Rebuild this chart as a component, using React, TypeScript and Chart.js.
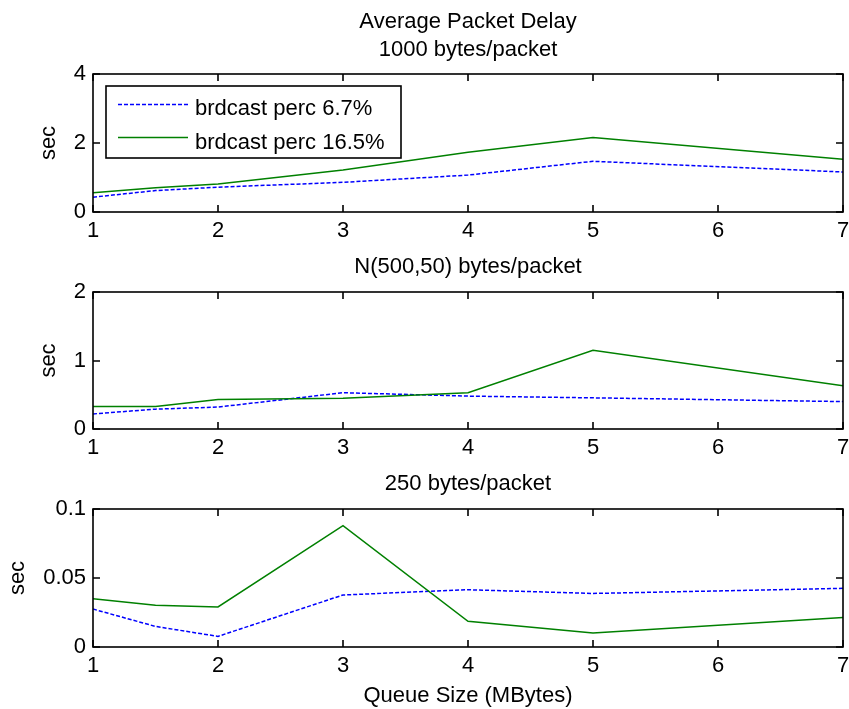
import React, { useEffect, useRef } from "react";
import { Chart, registerables } from "chart.js";

Chart.register(...registerables);

// ---------- data ----------
const queueSizes = [1, 1.5, 2, 3, 4, 5, 7];
const xTickValues = [1, 2, 3, 4, 5, 6, 7];
const seriesLabels = ["brdcast perc 6.7%", "brdcast perc 16.5%"];

const delay1000Perc67 = [0.43, 0.62, 0.72, 0.86, 1.07, 1.47, 1.16];
const delay1000Perc165 = [0.56, 0.7, 0.81, 1.22, 1.73, 2.16, 1.53];

const delayN500Perc67 = [0.22, 0.29, 0.32, 0.53, 0.48, 0.455, 0.4];
const delayN500Perc165 = [0.33, 0.33, 0.43, 0.45, 0.53, 1.15, 0.63];

const delay250Perc67 = [0.0275, 0.0149, 0.0077, 0.0377, 0.0415, 0.0388, 0.0425];
const delay250Perc165 = [0.035, 0.0302, 0.029, 0.0879, 0.0186, 0.0101, 0.0214];

const yTicks1000 = [0, 2, 4];
const yTicksN500 = [0, 1, 2];
const yTicks250 = [0, 0.05, 0.1];
const yTickLabels1000 = ["0", "2", "4"];
const yTickLabelsN500 = ["0", "1", "2"];
const yTickLabels250 = ["0", "0.05", "0.1"];

const mainTitle = "Average Packet Delay";
const panelTitles = ["1000 bytes/packet", "N(500,50) bytes/packet", "250 bytes/packet"];
const yAxisLabel = "sec";
const xAxisLabel = "Queue Size (MBytes)";

// ---------- styling / layout ----------
const FAMILY = '"Liberation Sans", Arial, Helvetica, sans-serif';
const FONT_SIZE = 22;
const FONT = `${FONT_SIZE}px ${FAMILY}`;
const WIDTH = 849;
const AREA_LEFT = 93;
const RIGHT_PAD = 6;
const TICK_LEN = 7;
const BLUE = "#0000ff";
const GREEN = "#008000";
const LINE_W = 1.5;
const AXIS_W = 1.6;

type Panel = {
  canvasTop: number;
  canvasHeight: number;
  areaTop: number;
  areaBottom: number;
  yMax: number;
  yTicks: number[];
  yTickLabels: string[];
  s1: number[];
  s2: number[];
  titles: { text: string; y: number }[];
  ylabelX: number;
  xlabelY?: number;
  legend?: boolean;
};

const panels: Panel[] = [
  {
    canvasTop: 0,
    canvasHeight: 245,
    areaTop: 74,
    areaBottom: 212,
    yMax: 4,
    yTicks: yTicks1000,
    yTickLabels: yTickLabels1000,
    s1: delay1000Perc67,
    s2: delay1000Perc165,
    titles: [
      { text: mainTitle, y: 28 },
      { text: panelTitles[0], y: 56 },
    ],
    ylabelX: 55,
    legend: true,
  },
  {
    canvasTop: 245,
    canvasHeight: 215,
    areaTop: 47,
    areaBottom: 184,
    yMax: 2,
    yTicks: yTicksN500,
    yTickLabels: yTickLabelsN500,
    s1: delayN500Perc67,
    s2: delayN500Perc165,
    titles: [{ text: panelTitles[1], y: 28 }],
    ylabelX: 55,
  },
  {
    canvasTop: 460,
    canvasHeight: 249,
    areaTop: 49,
    areaBottom: 187,
    yMax: 0.1,
    yTicks: yTicks250,
    yTickLabels: yTickLabels250,
    s1: delay250Perc67,
    s2: delay250Perc165,
    titles: [{ text: panelTitles[2], y: 30 }],
    ylabelX: 24,
    xlabelY: 242,
  },
];

function makeDecorPlugin(p: Panel) {
  return {
    id: "matlabDecor",
    afterDraw(chart: any) {
      const ctx: CanvasRenderingContext2D = chart.ctx;
      const { left, right, top, bottom } = chart.chartArea;
      const xs = chart.scales.x;
      const ys = chart.scales.y;
      const L = Math.round(left);
      const R = Math.round(right);
      const T = Math.round(top);
      const B = Math.round(bottom);
      ctx.save();
      ctx.strokeStyle = "#000";
      ctx.lineWidth = AXIS_W;
      ctx.setLineDash([]);
      // box
      ctx.strokeRect(L, T, R - L, B - T);
      // inward ticks
      ctx.beginPath();
      for (const v of xTickValues) {
        const px = Math.round(xs.getPixelForValue(v));
        ctx.moveTo(px, B);
        ctx.lineTo(px, B - TICK_LEN);
        ctx.moveTo(px, T);
        ctx.lineTo(px, T + TICK_LEN);
      }
      for (const v of p.yTicks) {
        const py = Math.round(ys.getPixelForValue(v));
        ctx.moveTo(L, py);
        ctx.lineTo(L + TICK_LEN, py);
        ctx.moveTo(R, py);
        ctx.lineTo(R - TICK_LEN, py);
      }
      ctx.stroke();

      // titles
      ctx.fillStyle = "#000";
      ctx.font = FONT;
      ctx.textAlign = "center";
      ctx.textBaseline = "alphabetic";
      const cx = (left + right) / 2;
      for (const t of p.titles) ctx.fillText(t.text, cx, t.y);
      if (p.xlabelY !== undefined) ctx.fillText(xAxisLabel, cx, p.xlabelY);

      // y label
      ctx.save();
      ctx.translate(p.ylabelX, (top + bottom) / 2);
      ctx.rotate(-Math.PI / 2);
      ctx.fillText(yAxisLabel, 0, 0);
      ctx.restore();

      // legend
      if (p.legend) {
        const bx = 106, by = 86, bw = 295, bh = 72;
        ctx.fillStyle = "#fff";
        ctx.fillRect(bx, by, bw, bh);
        ctx.strokeStyle = "#000";
        ctx.lineWidth = AXIS_W;
        ctx.strokeRect(bx, by, bw, bh);
        const rows = [
          { color: BLUE, dash: [4, 2], lineY: 104.5, textY: 115 },
          { color: GREEN, dash: [] as number[], lineY: 137.5, textY: 148.5 },
        ];
        rows.forEach((r, i) => {
          ctx.strokeStyle = r.color;
          ctx.lineWidth = LINE_W;
          ctx.setLineDash(r.dash);
          ctx.beginPath();
          ctx.moveTo(118, r.lineY);
          ctx.lineTo(188, r.lineY);
          ctx.stroke();
          ctx.setLineDash([]);
          ctx.fillStyle = "#000";
          ctx.textAlign = "left";
          ctx.fillText(seriesLabels[i], 195, r.textY);
        });
      }
      ctx.restore();
    },
  };
}

function buildChart(canvas: HTMLCanvasElement, p: Panel) {
  const font = { family: FAMILY, size: FONT_SIZE };
  return new Chart(canvas, {
    type: "line",
    data: {
      datasets: [
        {
          label: seriesLabels[0],
          data: queueSizes.map((x, i) => ({ x, y: p.s1[i] })),
          borderColor: BLUE,
          borderWidth: LINE_W,
          borderDash: [4, 2],
          pointRadius: 0,
          fill: false,
          tension: 0,
          order: 1,
        },
        {
          label: seriesLabels[1],
          data: queueSizes.map((x, i) => ({ x, y: p.s2[i] })),
          borderColor: GREEN,
          borderWidth: LINE_W,
          pointRadius: 0,
          fill: false,
          tension: 0,
          order: 0,
        },
      ],
    },
    options: {
      animation: false,
      responsive: false,
      devicePixelRatio: 1,
      events: [],
      layout: { padding: { top: p.areaTop, right: RIGHT_PAD, left: 0, bottom: 0 } },
      plugins: {
        legend: { display: false },
        tooltip: { enabled: false },
        title: { display: false },
      },
      scales: {
        x: {
          type: "linear",
          min: 1,
          max: 7,
          grid: { display: false, drawTicks: false },
          border: { display: false },
          afterBuildTicks: (s: any) => {
            s.ticks = xTickValues.map((v) => ({ value: v }));
          },
          afterFit: (s: any) => {
            s.height = p.canvasHeight - p.areaBottom;
            s.paddingLeft = 0;
            s.paddingRight = 0;
          },
          ticks: {
            color: "#000",
            font,
            padding: 6,
            maxRotation: 0,
            autoSkip: false,
            callback: (v: any) => String(v),
          },
        },
        y: {
          type: "linear",
          min: 0,
          max: p.yMax,
          grid: { display: false, drawTicks: false },
          border: { display: false },
          afterBuildTicks: (s: any) => {
            s.ticks = p.yTicks.map((v) => ({ value: v }));
          },
          afterFit: (s: any) => {
            s.width = AREA_LEFT;
            s.paddingTop = 0;
            s.paddingBottom = 0;
          },
          ticks: {
            color: "#000",
            font,
            padding: 7,
            autoSkip: false,
            callback: (_v: any, i: number) => p.yTickLabels[i],
          },
        },
      },
    },
    plugins: [makeDecorPlugin(p)],
  } as any);
}

export default function App() {
  const refs = [
    useRef<HTMLCanvasElement>(null),
    useRef<HTMLCanvasElement>(null),
    useRef<HTMLCanvasElement>(null),
  ];

  useEffect(() => {
    const charts = panels.map((p, i) => buildChart(refs[i].current!, p));
    return () => charts.forEach((c) => c.destroy());
  }, []);

  return (
    <div
      style={{
        position: "absolute",
        left: 0,
        top: 0,
        width: WIDTH,
        height: 709,
        background: "#fff",
        overflow: "hidden",
      }}
    >
      {panels.map((p, i) => (
        <canvas
          key={i}
          ref={refs[i]}
          width={WIDTH}
          height={p.canvasHeight}
          style={{
            position: "absolute",
            left: 0,
            top: p.canvasTop,
            width: WIDTH,
            height: p.canvasHeight,
            display: "block",
          }}
        />
      ))}
    </div>
  );
}
